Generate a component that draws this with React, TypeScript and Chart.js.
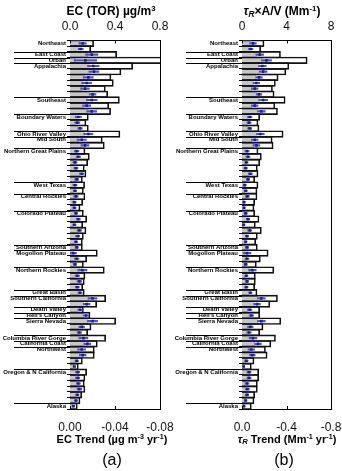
import React, { useEffect, useRef } from "react";
import { Chart, registerables } from "chart.js";
Chart.register(...registerables);

// ---------- DATA ----------
const groupNames = [
  "Northeast", "East Coast", "Urban", "Appalachia", "Southeast", "Boundary Waters",
  "Ohio River Valley", "Mid South", "Northern Great Plains", "West Texas", "Central Rockies",
  "Colorado Plateau", "Southern Arizona", "Mogollon Plateau", "Northern Rockies", "Great Basin",
  "Southern California", "Death Valley", "Hell's Canyon", "Sierra Nevada", "Columbia River Gorge",
  "California Coast", "Northwest", "Oregon & N California", "Alaska",
];
const groupSizes = [2, 1, 1, 6, 3, 3, 1, 2, 6, 2, 3, 6, 1, 3, 4, 1, 2, 1, 1, 3, 1, 1, 4, 6, 1];

// Panel (a): EC (TOR) concentration (ug/m3) and EC trend (ug m-3 yr-1)
const ecConc = [
  0.21, 0.184, 0.415, 1.0, 0.557, 0.453, 0.364, 0.385, 0.314, 0.335,
  0.439, 0.344, 0.361, 0.163, 0.142, 0.163, 0.444, 0.287, 0.305, 0.133,
  0.172, 0.157, 0.127, 0.142, 0.11, 0.13, 0.119, 0.133, 0.113, 0.089,
  0.119, 0.148, 0.113, 0.142, 0.119, 0.11, 0.11, 0.243, 0.148, 0.119,
  0.305, 0.133, 0.127, 0.113, 0.127, 0.317, 0.237, 0.119, 0.178, 0.406,
  0.187, 0.157, 0.317, 0.243, 0.216, 0.216, 0.11, 0.074, 0.148, 0.133,
  0.127, 0.133, 0.104, 0.089, 0.065,
];
const ecTrendBar = [
  -0.009, -0.008, -0.016, -0.005, -0.017, -0.018, -0.013, -0.012, -0.011, -0.017,
  -0.016, -0.012, -0.016, -0.006, -0.005, -0.007, -0.013, -0.008, -0.011, -0.005,
  -0.006, -0.003, -0.004, -0.009, -0.005, -0.003, -0.003, -0.004, -0.003, -0.003,
  -0.004, -0.006, -0.003, -0.007, -0.005, -0.004, -0.005, -0.002, -0.005, -0.003,
  -0.009, -0.005, -0.007, -0.005, -0.008, -0.017, -0.012, -0.007, -0.012, -0.016,
  -0.008, -0.007, -0.009, -0.013, -0.008, -0.009, -0.005, -0.003, -0.005, -0.005,
  -0.006, -0.007, -0.005, -0.004, -0.002,
];
const ecTrend = [
  -0.0113, -0.0095, -0.0193, -0.0137, -0.0207, -0.0213, -0.0163, -0.0148, -0.0133, -0.0201,
  -0.0193, -0.0148, -0.0193, -0.0074, -0.0065, -0.0089, -0.0163, -0.0104, -0.0133, -0.0059,
  -0.0074, -0.0044, -0.0053, -0.0104, -0.006, -0.0044, -0.0044, -0.0053, -0.0039, -0.0039,
  -0.0053, -0.0074, -0.0039, -0.0083, -0.0068, -0.0053, -0.006, -0.003, -0.006, -0.0044,
  -0.011, -0.0065, -0.0083, -0.0065, -0.0089, -0.02, -0.0148, -0.0089, -0.0142, -0.02,
  -0.0104, -0.0083, -0.0119, -0.0154, -0.0104, -0.0113, -0.006, -0.0039, -0.0068, -0.0068,
  -0.0074, -0.0083, -0.0065, -0.0053, -0.003,
];
const ecTrendErr = [
  0.0033, 0.0022, 0.0055, 0.01, 0.0052, 0.0044, 0.0044, 0.0044, 0.0039, 0.003,
  0.0048, 0.0036, 0.0044, 0.0027, 0.0022, 0.002, 0.0041, 0.0041, 0.0036, 0.002,
  0.002, 0.0018, 0.0018, 0.002, 0.0018, 0.0018, 0.0015, 0.002, 0.0015, 0.0015,
  0.0015, 0.0018, 0.0015, 0.002, 0.0018, 0.0015, 0.0015, 0.0027, 0.002, 0.0015,
  0.0041, 0.002, 0.002, 0.0018, 0.0018, 0.004, 0.003, 0.002, 0.0025, 0.0045,
  0.0025, 0.002, 0.004, 0.003, 0.0036, 0.003, 0.0015, 0.0012, 0.0018, 0.0018,
  0.0018, 0.002, 0.0015, 0.0015, 0.0012,
];
const ecConcTicks = [0, 0.4, 0.8];
const ecConcTickLabels = ["0.0", "0.4", "0.8"];
const ecTrendTicks = [0, -0.04, -0.08];
const ecTrendTickLabels = ["0.00", "-0.04", "-0.08"];

// Panel (b): tauR x A/V (Mm-1) and its trend (Mm-1 yr-1)
const tauConc = [
  1.98, 1.68, 3.46, 5.86, 4.21, 3.94, 3.25, 3.0, 2.74, 2.89,
  3.88, 2.95, 3.19, 1.59, 1.44, 1.53, 3.7, 2.71, 2.8, 1.44,
  1.74, 1.59, 1.38, 1.44, 1.14, 1.44, 1.35, 1.35, 1.14, 1.08,
  1.14, 1.53, 1.2, 1.74, 1.38, 1.23, 1.38, 2.35, 1.65, 1.29,
  2.86, 1.2, 1.2, 1.14, 1.35, 3.19, 2.5, 1.59, 1.59, 3.49,
  1.89, 1.59, 3.01, 2.59, 2.11, 2.26, 1.08, 0.84, 1.5, 1.5,
  1.38, 1.38, 1.14, 1.08, 0.84,
];
const tauTrendBar = [
  -0.08, -0.065, -0.13, -0.18, -0.15, -0.155, -0.125, -0.105, -0.09, -0.13,
  -0.155, -0.09, -0.14, -0.055, -0.05, -0.055, -0.135, -0.09, -0.105, -0.035,
  -0.045, -0.03, -0.027, -0.06, -0.045, -0.02, -0.027, -0.038, -0.014, -0.014,
  -0.027, -0.045, -0.012, -0.055, -0.036, -0.027, -0.036, -0.03, -0.036, -0.027,
  -0.075, -0.031, -0.036, -0.031, -0.06, -0.14, -0.11, -0.055, -0.068, -0.14,
  -0.06, -0.05, -0.08, -0.115, -0.068, -0.075, -0.031, -0.012, -0.05, -0.05,
  -0.036, -0.038, -0.036, -0.027, -0.014,
];
const tauTrend = [
  -0.099, -0.078, -0.159, -0.22, -0.183, -0.19, -0.153, -0.129, -0.114, -0.153,
  -0.19, -0.114, -0.174, -0.069, -0.063, -0.069, -0.165, -0.114, -0.129, -0.045,
  -0.054, -0.039, -0.033, -0.075, -0.054, -0.024, -0.033, -0.048, -0.018, -0.018,
  -0.033, -0.054, -0.015, -0.069, -0.045, -0.033, -0.045, -0.045, -0.045, -0.033,
  -0.093, -0.039, -0.045, -0.039, -0.075, -0.174, -0.135, -0.069, -0.084, -0.174,
  -0.075, -0.063, -0.099, -0.144, -0.084, -0.093, -0.039, -0.015, -0.063, -0.063,
  -0.045, -0.048, -0.045, -0.033, -0.018,
];
const tauTrendErr = [
  0.03, 0.02, 0.035, 0.045, 0.035, 0.035, 0.03, 0.03, 0.03, 0.025,
  0.04, 0.03, 0.035, 0.02, 0.018, 0.018, 0.035, 0.03, 0.03, 0.018,
  0.018, 0.015, 0.015, 0.018, 0.015, 0.015, 0.015, 0.018, 0.012, 0.012,
  0.015, 0.015, 0.012, 0.018, 0.015, 0.012, 0.015, 0.035, 0.018, 0.015,
  0.035, 0.015, 0.015, 0.015, 0.015, 0.035, 0.03, 0.02, 0.02, 0.035,
  0.025, 0.02, 0.035, 0.03, 0.03, 0.025, 0.015, 0.01, 0.018, 0.018,
  0.018, 0.018, 0.015, 0.012, 0.01,
];
const tauConcTicks = [0, 4, 8];
const tauConcTickLabels = ["0", "4", "8"];
const tauTrendTicks = [0, -0.4, -0.8];
const tauTrendTickLabels = ["0.0", "-0.4", "-0.8"];

// ---------- derived category labels ----------
const rowLabels: string[] = [];
const groupStarts: number[] = [];
groupNames.forEach((name, gi) => {
  groupStarts.push(rowLabels.length);
  for (let k = 0; k < groupSizes[gi]; k++) rowLabels.push(k === 0 ? name : "");
});

const FONT = '"Liberation Sans", Arial, Helvetica, sans-serif';
const CANVAS_H = 471;
const PLOT_TOP = 40.5;
const PLOT_BOTTOM = 409;

const framePlugin = {
  id: "frame",
  afterDatasetsDraw(chart: any, _args: any, opts: any) {
    const { ctx, chartArea: a, scales } = chart;
    const r = (v: number) => Math.round(v) + 0.5;
    ctx.save();
    ctx.strokeStyle = "#000";
    ctx.lineWidth = 1;
    const line = (x1: number, y1: number, x2: number, y2: number) => {
      ctx.beginPath();
      ctx.moveTo(x1, y1);
      ctx.lineTo(x2, y2);
      ctx.stroke();
    };
    line(r(a.right), a.top, r(a.right), a.bottom);
    (opts.topTicks || []).forEach((v: number) => {
      const px = r(scales.x.getPixelForValue(v));
      line(px, a.top, px, a.top + 3);
    });
    (opts.bottomTicks || []).forEach((v: number) => {
      const px = r(scales.x2.getPixelForValue(v));
      line(px, a.bottom, px, a.bottom - 3);
    });
    const y = scales.y;
    const half = (y.getPixelForValue(1) - y.getPixelForValue(0)) / 2;
    groupStarts.forEach((s) => {
      if (s === 0) return;
      const yy = r(y.getPixelForValue(s) - half);
      line(opts.sepLeft, yy, a.left, yy);
    });
    ctx.restore();
  },
};

type PanelProps = {
  conc: number[];
  trendBar: number[];
  trend: number[];
  err: number[];
  concTicks: number[];
  concTickLabels: string[];
  trendTicks: number[];
  trendTickLabels: string[];
  yWidth: number;
  canvasWidth: number;
  padRight: number;
  sepLeft: number;
  markHalf: number;
  left: number;
};

function Panel(p: PanelProps) {
  const ref = useRef<HTMLCanvasElement | null>(null);
  useEffect(() => {
    const canvas = ref.current!;
    const n = rowLabels.length;
    const pitch = (PLOT_BOTTOM - PLOT_TOP) / n;
    const concMax = p.concTicks[p.concTicks.length - 1];
    const trendMin = p.trendTicks[p.trendTicks.length - 1];
    const chart = new Chart(canvas, {
      type: "bar",
      data: {
        labels: rowLabels,
        datasets: [
          {
            label: "trend mark",
            data: p.trend.map((v) => [v - p.markHalf, v + p.markHalf]),
            xAxisID: "x2",
            yAxisID: "y",
            backgroundColor: "#1c1c96",
            barThickness: 2,
            grouped: false,
          } as any,
          {
            label: "trend range",
            data: p.trend.map((v, i) => [v - p.err[i], v + p.err[i]]),
            xAxisID: "x2",
            yAxisID: "y",
            backgroundColor: "#4d4dea",
            barThickness: 1.5,
            grouped: false,
          },
          {
            label: "concentration",
            data: p.conc,
            xAxisID: "x",
            yAxisID: "y",
            backgroundColor: "rgba(0,0,0,0)",
            borderColor: "#111",
            borderWidth: 1,
            barThickness: pitch + 1,
            grouped: false,
          },
          {
            label: "trend",
            data: p.trendBar,
            xAxisID: "x2",
            yAxisID: "y",
            backgroundColor: "#c6c6c6",
            borderWidth: 0,
            barThickness: pitch,
            grouped: false,
          },
        ],
      },
      options: {
        indexAxis: "y",
        animation: false,
        responsive: false,
        devicePixelRatio: 1,
        events: [],
        layout: { padding: { left: 0, right: p.padRight, top: 0, bottom: 0 } },
        plugins: {
          legend: { display: false },
          tooltip: { enabled: false },
          frame: {
            sepLeft: p.sepLeft,
            topTicks: p.concTicks,
            bottomTicks: p.trendTicks,
          },
        } as any,
        scales: {
          y: {
            type: "category",
            position: "left",
            offset: true,
            grid: {
              display: true,
              offset: true,
              drawOnChartArea: false,
              drawTicks: true,
              tickLength: 3,
              color: "#000",
              lineWidth: 1,
            },
            border: { display: true, color: "#000", width: 1 },
            ticks: {
              autoSkip: false,
              color: "#000",
              padding: 1,
              font: { family: FONT, size: 6, weight: "bold" },
            },
            afterFit: (s: any) => {
              s.width = p.yWidth;
            },
          },
          x: {
            type: "linear",
            axis: "x",
            position: "top",
            min: 0,
            max: concMax,
            grid: { display: false, drawTicks: false },
            border: { display: true, color: "#000", width: 1 },
            afterBuildTicks: (s: any) => {
              s.ticks = p.concTicks.map((v) => ({ value: v }));
            },
            ticks: {
              autoSkip: false,
              maxRotation: 0,
              color: "#111",
              padding: 7,
              font: { family: FONT, size: 12 },
              callback: (_v: any, i: number) => p.concTickLabels[i],
            },
            afterFit: (s: any) => {
              s.height = PLOT_TOP;
            },
          },
          x2: {
            type: "linear",
            axis: "x",
            position: "bottom",
            min: trendMin,
            max: 0,
            reverse: true,
            grid: { display: false, drawTicks: false },
            border: { display: true, color: "#000", width: 1 },
            afterBuildTicks: (s: any) => {
              s.ticks = p.trendTicks.map((v) => ({ value: v }));
            },
            ticks: {
              autoSkip: false,
              maxRotation: 0,
              color: "#111",
              padding: 11,
              font: { family: FONT, size: 12 },
              callback: (_v: any, i: number) => p.trendTickLabels[i],
            },
            afterFit: (s: any) => {
              s.height = CANVAS_H - PLOT_BOTTOM;
            },
          },
        } as any,
      },
      plugins: [framePlugin],
    } as any);
    return () => chart.destroy();
  }, []);
  return (
    <canvas
      ref={ref}
      width={p.canvasWidth}
      height={CANVAS_H}
      style={{
        position: "absolute",
        left: p.left,
        top: 0,
        width: p.canvasWidth,
        height: CANVAS_H,
      }}
    />
  );
}

const textBase: React.CSSProperties = {
  position: "absolute",
  transform: "translate(-50%, -50%)",
  whiteSpace: "nowrap",
  fontFamily: FONT,
  color: "#000",
  lineHeight: 1,
};
const sup: React.CSSProperties = { fontSize: "0.65em", verticalAlign: "0.5em", lineHeight: 0 };
const sub: React.CSSProperties = { fontSize: "0.7em", verticalAlign: "-0.25em", lineHeight: 0, fontStyle: "italic" };

export default function App() {
  return (
    <div
      style={{
        position: "absolute",
        left: 0,
        top: 0,
        width: 342,
        height: 471,
        overflow: "hidden",
        background: "#fff",
      }}
    >
      <Panel
        conc={ecConc}
        trendBar={ecTrendBar}
        trend={ecTrend}
        err={ecTrendErr}
        concTicks={ecConcTicks}
        concTickLabels={ecConcTickLabels}
        trendTicks={ecTrendTicks}
        trendTickLabels={ecTrendTickLabels}
        yWidth={70}
        canvasWidth={185}
        padRight={25}
        sepLeft={14}
        markHalf={0.0008}
        left={0}
      />
      <Panel
        conc={tauConc}
        trendBar={tauTrendBar}
        trend={tauTrend}
        err={tauTrendErr}
        concTicks={tauConcTicks}
        concTickLabels={tauConcTickLabels}
        trendTicks={tauTrendTicks}
        trendTickLabels={tauTrendTickLabels}
        yWidth={71}
        canvasWidth={185}
        padRight={25}
        sepLeft={15}
        markHalf={0.008}
        left={171}
      />
      <div style={{ ...textBase, left: 111, top: 11, fontSize: 12, fontWeight: "bold" }}>
        EC (TOR) µg/m<span style={sup}>3</span>
      </div>
      <div style={{ ...textBase, left: 282, top: 11, fontSize: 12, fontWeight: "bold" }}>
        <i>τ</i>
        <span style={sub}>R</span>×A/V (Mm<span style={sup}>-1</span>)
      </div>
      <div style={{ ...textBase, left: 112, top: 439, fontSize: 11, fontWeight: "bold" }}>
        EC Trend (µg m<span style={sup}>-3</span> yr<span style={sup}>-1</span>)
      </div>
      <div style={{ ...textBase, left: 287, top: 439, fontSize: 11, fontWeight: "bold" }}>
        <i>τ</i>
        <span style={sub}>R</span> Trend (Mm<span style={sup}>-1</span> yr<span style={sup}>-1</span>)
      </div>
      <div style={{ ...textBase, left: 112, top: 460, fontSize: 16 }}>(a)</div>
      <div style={{ ...textBase, left: 284, top: 460, fontSize: 16 }}>(b)</div>
    </div>
  );
}
